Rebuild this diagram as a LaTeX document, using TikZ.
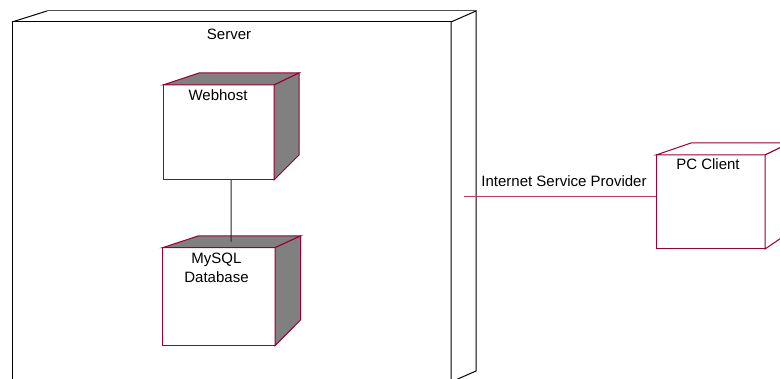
\documentclass[tikz,border=0pt]{standalone}
\usepackage{fontspec}
\setmainfont{Liberation Sans}
\definecolor{nodeedge}{RGB}{153,0,51}
\definecolor{linkline}{RGB}{190,60,100}
\definecolor{shade}{RGB}{128,128,128}
\begin{document}
\begin{tikzpicture}[x=1pt,y=-1pt,
  every node/.style={inner sep=0pt, outer sep=0pt},
  lbl/.style={font=\fontsize{15}{19}\selectfont, text=black, align=center},
  front/.style={draw=nodeedge, line width=1pt, fill=white, rectangle, anchor=north west},
  face/.style={draw=nodeedge, line width=1pt, line join=miter},
  servedge/.style={draw=black, line width=1pt}]
\useasboundingbox (0,0) rectangle (780,379);
\clip (0,0) rectangle (780,379);

% Server node (large cube, runs past the lower edge)
\node[servedge, fill=white, rectangle, anchor=north west, minimum width=439pt, minimum height=360pt] (server) at (12,22) {};
\draw[servedge, fill=white] (server.north east) -- (476,11) -- (476,371) -- (451,382) -- cycle;
\draw[servedge, fill=white] (server.north west) -- (47,11);
\draw[line width=1pt, draw=black!70] (47,11) -- (476,11);
\draw[servedge] (server.north west) -- (server.north east);
\node[lbl] (serverlbl) at (229,34) {Server};

% Webhost node
\node[front, minimum width=111pt, minimum height=95pt] (web) at (163,85) {};
\draw[face, fill=shade] (web.north west) -- (199,73) -- (299,73) -- (web.north east) -- cycle;
\draw[face, fill=shade] (web.north east) -- (299,73) -- (299,155) -- (web.south east) -- cycle;
\node[lbl] (weblbl) at (218,95) {Webhost};

% MySQL database node
\node[front, minimum width=112.5pt, minimum height=98pt] (db) at (162.5,247.7) {};
\draw[face, fill=shade] (db.north west) -- (198,236) -- (300.5,236) -- (db.north east) -- cycle;
\draw[face, fill=shade] (db.north east) -- (300.5,236) -- (300.5,320) -- (db.south east) -- cycle;
\node[lbl] (dblbl) at (216.5,267.5) {MySQL\\Database};

% Link between webhost and database
\draw[line width=1pt, black!85] ([xshift=12.5pt]web.south) -- ([xshift=12.5pt, yshift=6pt]db.north);

% PC client node (runs past the right edge)
\node[front, minimum width=109pt, minimum height=94pt] (pc) at (656,155) {};
\draw[face, fill=white] (pc.north west) -- (691,143) -- (790,143) -- (pc.north east) -- cycle;
\draw[face, fill=white] (pc.north east) -- (790,143) -- (790,232) -- (pc.south east) -- cycle;
\node[lbl] (pclbl) at (708,164) {PC Client};

% Internet link from the server to the client
\coordinate (srvside) at (463.5,197);
\draw[line width=1pt, linkline] (srvside) -- (srvside -| pc.west);
\node[lbl] (isplbl) at (564,181) {Internet Service Provider};
\end{tikzpicture}
\end{document}
